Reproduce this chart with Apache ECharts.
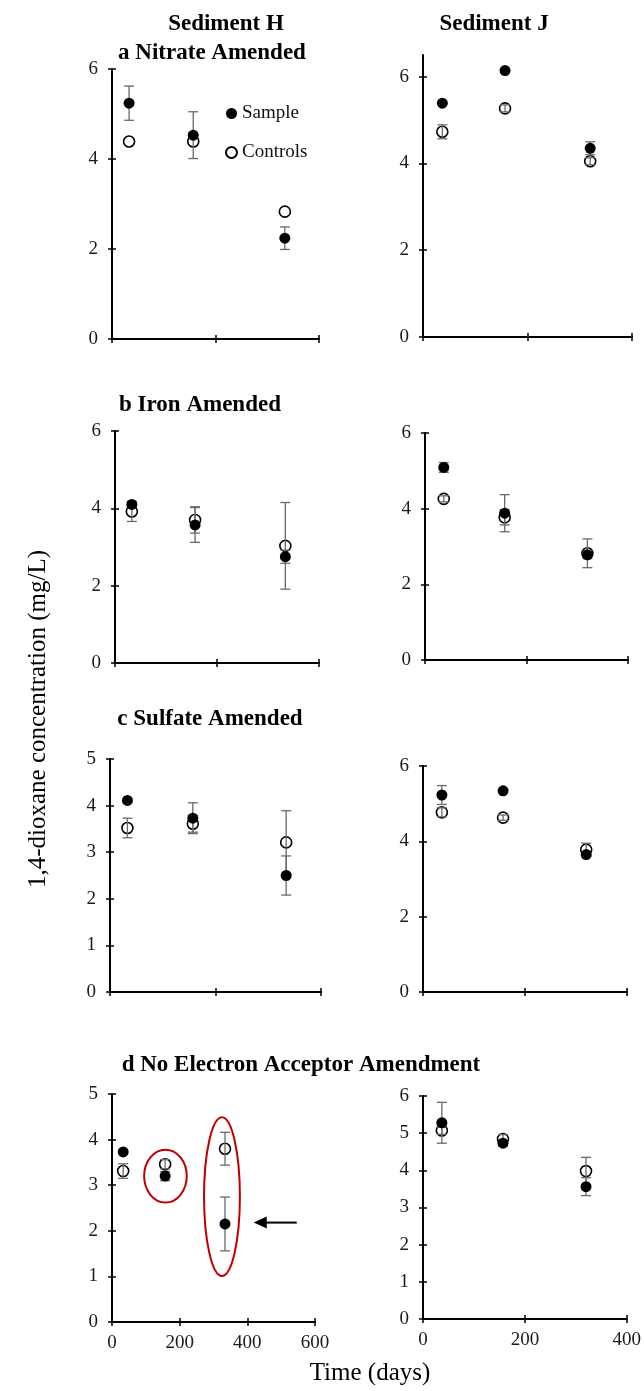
<!DOCTYPE html>
<html>
<head>
<meta charset="utf-8">
<script src="https://cdn.jsdelivr.net/npm/echarts@6/dist/echarts.min.js"></script>
<style>
html, body { margin: 0; padding: 0; background: #fff; }
#chart { width: 644px; height: 1391px; }
</style>
</head>
<body>
<div id="chart"></div>
<script>
// 时间点（天）
var daysH = [33, 157, 334];
var daysJ = [37, 157, 320];

// a 硝酸盐
var sampleHa = [5.24, 4.53, 2.24], sampleHaErr = [0.38, 0.52, 0.25];
var controlHa = [4.39, 4.39, 2.83], controlHaErr = [0, 0, 0];
var sampleJa = [5.39, 6.14, 4.35], sampleJaErr = [0, 0, 0.15];
var controlJa = [4.73, 5.27, 4.05], controlJaErr = [0.16, 0.08, 0.08];
// b 铁
var sampleHb = [4.10, 3.57, 2.75], sampleHbErr = [0, 0.45, 0.17];
var controlHb = [3.92, 3.70, 3.03], controlHbErr = [0.26, 0.34, 1.12];
var sampleJb = [5.09, 3.88, 2.78], sampleJbErr = [0.13, 0.49, 0.10];
var controlJb = [4.26, 3.77, 2.82], controlJbErr = [0.08, 0.20, 0.38];
// c 硫酸盐
var sampleHc = [4.11, 3.73, 2.50], sampleHcErr = [0, 0.33, 0.42];
var controlHc = [3.52, 3.61, 3.21], controlHcErr = [0.21, 0.18, 0.68];
var sampleJc = [5.23, 5.34, 3.65], sampleJcErr = [0.25, 0, 0.05];
var controlJc = [4.77, 4.63, 3.78], controlJcErr = [0.12, 0.07, 0.17];
// d 无电子受体
var sampleHd = [3.73, 3.20, 2.15], sampleHdErr = [0, 0.10, 0.59];
var controlHd = [3.31, 3.46, 3.80], controlHdErr = [0.16, 0.10, 0.36];
var sampleJd = [5.28, 4.73, 3.56], sampleJdErr = [0.55, 0.08, 0.24];
var controlJd = [5.07, 4.84, 3.98], controlJdErr = [0.10, 0.12, 0.37];

// 红色椭圆标注 [x, y, rx, ry]（数据单位），箭头 [起点x, 终点x, y]
var ellipsesHd = [[158, 3.20, 63, 0.58], [325, 2.75, 53, 1.74]];
var arrowHd = [[546, 419, 2.18]];

var panels = [
    { days: daysH, s: sampleHa, se: sampleHaErr, c: controlHa, ce: controlHaErr },
    { days: daysJ, s: sampleJa, se: sampleJaErr, c: controlJa, ce: controlJaErr },
    { days: daysH, s: sampleHb, se: sampleHbErr, c: controlHb, ce: controlHbErr },
    { days: daysJ, s: sampleJb, se: sampleJbErr, c: controlJb, ce: controlJbErr },
    { days: daysH, s: sampleHc, se: sampleHcErr, c: controlHc, ce: controlHcErr },
    { days: daysJ, s: sampleJc, se: sampleJcErr, c: controlJc, ce: controlJcErr },
    { days: daysH, s: sampleHd, se: sampleHdErr, c: controlHd, ce: controlHdErr },
    { days: daysJ, s: sampleJd, se: sampleJdErr, c: controlJd, ce: controlJdErr }
];

// 每个小图的位置和坐标轴范围
var layout = [
    { left: 112, top: 69,   width: 207, height: 270, xMax: 400, yMax: 6,   yInt: 2, xLabel: false },
    { left: 423, top: 55,   width: 209, height: 282, xMax: 400, yMax: 6.5, yInt: 2, xLabel: false, yTicks: [0, 2, 4, 6] },
    { left: 115, top: 431,  width: 204, height: 232, xMax: 400, yMax: 6,   yInt: 2, xLabel: false },
    { left: 425, top: 433,  width: 203, height: 227, xMax: 400, yMax: 6,   yInt: 2, xLabel: false },
    { left: 110, top: 759,  width: 211, height: 233, xMax: 400, yMax: 5,   yInt: 1, xLabel: false },
    { left: 423, top: 766,  width: 204, height: 226, xMax: 400, yMax: 6,   yInt: 2, xLabel: false },
    { left: 112, top: 1094, width: 203, height: 228, xMax: 600, yMax: 5,   yInt: 1, xLabel: true },
    { left: 423, top: 1096, width: 204, height: 223, xMax: 400, yMax: 6,   yInt: 1, xLabel: true }
];

var FONT = '"Liberation Serif", "Times New Roman", serif';

function renderErrorBar(params, api) {
    var x = api.value(0);
    var lo = api.coord([x, api.value(1)]);
    var hi = api.coord([x, api.value(2)]);
    var half = 5;
    var st = { stroke: '#6a6a6a', lineWidth: 1.3 };
    return {
        type: 'group',
        children: [
            { type: 'line', shape: { x1: lo[0], y1: lo[1], x2: hi[0], y2: hi[1] }, style: st },
            { type: 'line', shape: { x1: lo[0] - half, y1: lo[1], x2: lo[0] + half, y2: lo[1] }, style: st },
            { type: 'line', shape: { x1: hi[0] - half, y1: hi[1], x2: hi[0] + half, y2: hi[1] }, style: st }
        ]
    };
}

function renderEllipse(params, api) {
    var c = api.coord([api.value(0), api.value(1)]);
    var sz = api.size([api.value(2), api.value(3)]);
    var rx = sz[0], ry = sz[1];
    var d = 'M' + (c[0] - rx) + ' ' + c[1] +
        ' A' + rx + ' ' + ry + ' 0 1 0 ' + (c[0] + rx) + ' ' + c[1] +
        ' A' + rx + ' ' + ry + ' 0 1 0 ' + (c[0] - rx) + ' ' + c[1] + ' Z';
    return { type: 'path', shape: { pathData: d }, style: { fill: 'none', stroke: '#c00000', lineWidth: 2 } };
}

function renderArrow(params, api) {
    var tail = api.coord([api.value(0), api.value(2)]);
    var tip = api.coord([api.value(1), api.value(2)]);
    var head = 13, hw = 6;
    return {
        type: 'group',
        children: [
            { type: 'line', shape: { x1: tail[0], y1: tail[1], x2: tip[0] + head - 1, y2: tip[1] }, style: { stroke: '#000', lineWidth: 2 } },
            { type: 'polygon', shape: { points: [[tip[0], tip[1]], [tip[0] + head, tip[1] - hw], [tip[0] + head, tip[1] + hw]] }, style: { fill: '#000' } }
        ]
    };
}

var grids = [], xAxes = [], yAxes = [], series = [];

layout.forEach(function (l, i) {
    grids.push({ left: l.left, top: l.top, width: l.width, height: l.height });

    // 主轴 + 一条只画内侧刻度的轴，合起来是交叉刻度
    [false, true].forEach(function (inner) {
        xAxes.push({
            gridIndex: i, type: 'value', position: 'bottom', min: 0, max: l.xMax, interval: 200,
            axisLine: { show: !inner, onZero: false, lineStyle: { color: '#000', width: 2 } },
            axisTick: { show: true, inside: inner, length: 4, lineStyle: { color: '#000', width: 1.5 } },
            axisLabel: { show: !inner && l.xLabel, fontFamily: FONT, fontSize: 19, color: '#1a1a1a', margin: 12 },
            splitLine: { show: false }
        });
        var ya = {
            gridIndex: i, type: 'value', position: 'left', min: 0, max: l.yMax, interval: l.yInt,
            axisLine: { show: !inner, onZero: false, lineStyle: { color: '#000', width: 2 } },
            axisTick: { show: true, inside: inner, length: 4, lineStyle: { color: '#000', width: 1.5 } },
            axisLabel: { show: !inner, fontFamily: FONT, fontSize: 19, color: '#1a1a1a', margin: 14 },
            splitLine: { show: false }
        };
        if (l.yTicks) {
            ya.axisTick.customValues = l.yTicks;
            ya.axisLabel.customValues = l.yTicks;
        }
        yAxes.push(ya);
    });

    var p = panels[i];
    var ctrl = [], smp = [], bars = [];
    for (var k = 0; k < p.days.length; k++) {
        ctrl.push([p.days[k], p.c[k]]);
        smp.push([p.days[k], p.s[k]]);
        if (p.ce[k] > 0) bars.push([p.days[k], p.c[k] - p.ce[k], p.c[k] + p.ce[k]]);
        if (p.se[k] > 0) bars.push([p.days[k], p.s[k] - p.se[k], p.s[k] + p.se[k]]);
    }
    var ax = i * 2;
    series.push({
        name: 'Controls', type: 'scatter', xAxisIndex: ax, yAxisIndex: ax, z: 2,
        symbol: 'circle', symbolSize: 11, data: ctrl,
        itemStyle: { color: '#fff', borderColor: '#000', borderWidth: 1.6, opacity: 1 }
    });
    series.push({
        type: 'custom', xAxisIndex: ax, yAxisIndex: ax, z: 3,
        renderItem: renderErrorBar, encode: { x: 0, y: [1, 2] }, data: bars
    });
    series.push({
        name: 'Sample', type: 'scatter', xAxisIndex: ax, yAxisIndex: ax, z: 4,
        symbol: 'circle', symbolSize: 11, data: smp,
        itemStyle: { color: '#000', opacity: 1 }
    });
});

// d 图 Sediment H 的标注
series.push({
    type: 'custom', xAxisIndex: 12, yAxisIndex: 12, z: 5,
    renderItem: renderEllipse, encode: { x: 0, y: 1 }, data: ellipsesHd
});
series.push({
    type: 'custom', xAxisIndex: 12, yAxisIndex: 12, z: 5,
    renderItem: renderArrow, encode: { x: [0, 1], y: 2 }, data: arrowHd
});

function label(text, x, y, size, bold, rot) {
    return {
        type: 'text', x: x, y: y, rotation: rot || 0,
        style: {
            text: text, fill: '#000', align: 'center', verticalAlign: 'middle',
            font: (bold ? 'bold ' : '') + size + 'px ' + FONT
        }
    };
}

var myChart = echarts.init(document.getElementById('chart'));
var option = {
    animation: false,
    backgroundColor: '#fff',
    grid: grids,
    xAxis: xAxes,
    yAxis: yAxes,
    legend: {
        data: ['Sample', 'Controls'], selectedMode: false, orient: 'vertical',
        left: 220, top: 99, itemWidth: 11, itemHeight: 11, itemGap: 20, icon: 'circle',
        textStyle: { fontFamily: FONT, fontSize: 19, color: '#111' }
    },
    graphic: [
        label('Sediment H', 226, 24, 23, true),
        label('a Nitrate Amended', 212, 53, 23, true),
        label('Sediment J', 494, 24, 23, true),
        label('b Iron Amended', 200, 405, 23, true),
        label('c Sulfate Amended', 210, 719, 23, true),
        label('d No Electron Acceptor Amendment', 301, 1065, 23, true),
        label('Time (days)', 370, 1373, 25, false),
        label('1,4-dioxane concentration (mg/L)', 38, 719, 25, false, Math.PI / 2)
    ],
    series: series
};
myChart.setOption(option);
</script>
</body>
</html>
